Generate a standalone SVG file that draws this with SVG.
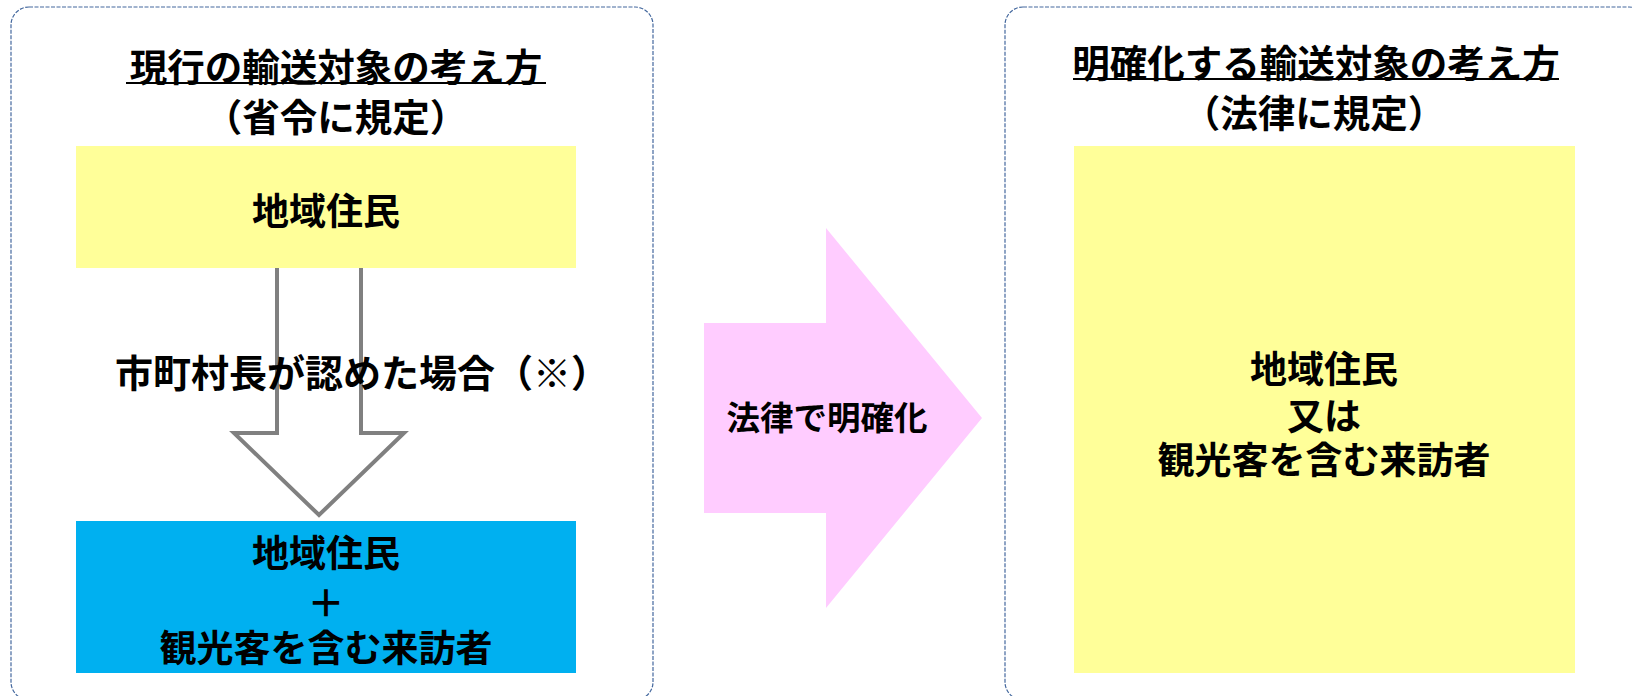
<svg xmlns="http://www.w3.org/2000/svg" width="1633" height="696" viewBox="0 0 1633 696">
<style>
.panel{fill:#FFFFFF;stroke:#44689E;stroke-width:1.2;stroke-dasharray:4 1.5}
.t{font-family:"Noto Sans CJK JP","Noto Sans CJK SC",sans-serif;font-weight:bold;fill:#000000;text-anchor:middle;dominant-baseline:central}
.ul{stroke:#000000;stroke-width:2}
</style>
<rect width="1633" height="696" fill="#FFFFFF"/>
<g id="panel-left">
<rect class="panel" x="11" y="7" width="642" height="693" rx="18" ry="18"/>
<text class="t" x="336" y="64" font-size="37.5">現行の輸送対象の考え方</text>
<line class="ul" x1="126" y1="83" x2="546" y2="83"/>
<text class="t" x="336" y="114" font-size="37.5">（省令に規定）</text>
</g>
<g id="panel-right">
<rect class="panel" x="1005" y="7" width="642" height="693" rx="18" ry="18"/>
<text class="t" x="1316" y="60" font-size="37.5">明確化する輸送対象の考え方</text>
<line class="ul" x1="1073" y1="79" x2="1559" y2="79"/>
<text class="t" x="1314" y="110" font-size="37.5">（法律に規定）</text>
</g>
<g id="connectors">
<polygon points="277,262 277,433 234,433 319,515 404,433 361,433 361,262" fill="#FFFFFF" stroke="#808080" stroke-width="4"/>
</g>
<g id="node-current">
<rect x="76" y="146" width="500" height="122" fill="#FFFF99"/>
<text class="t" x="326" y="209" font-size="37">地域住民</text>
</g>
<g id="label-condition">
<text class="t" x="115" y="370" font-size="38" style="text-anchor:start">市町村長が認めた場合（※）</text>
</g>
<g id="node-extended">
<rect x="76" y="521" width="500" height="152" fill="#00B0F0"/>
<text class="t" x="326" y="551" font-size="37">地域住民</text>
<text class="t" x="326" y="601" font-size="37">＋</text>
<text class="t" x="326" y="646" font-size="37">観光客を含む来訪者</text>
</g>
<g id="arrow-law">
<polygon points="704,323 826,323 826,228 982,418 826,608 826,513 704,513" fill="#FFCCFF"/>
<text class="t" x="827" y="415" font-size="33.5">法律で明確化</text>
</g>
<g id="node-new">
<rect x="1074" y="146" width="501" height="527" fill="#FFFF99"/>
<text class="t" x="1324" y="367" font-size="37">地域住民</text>
<text class="t" x="1324" y="414" font-size="37">又は</text>
<text class="t" x="1324" y="458" font-size="37">観光客を含む来訪者</text>
</g>
</svg>
